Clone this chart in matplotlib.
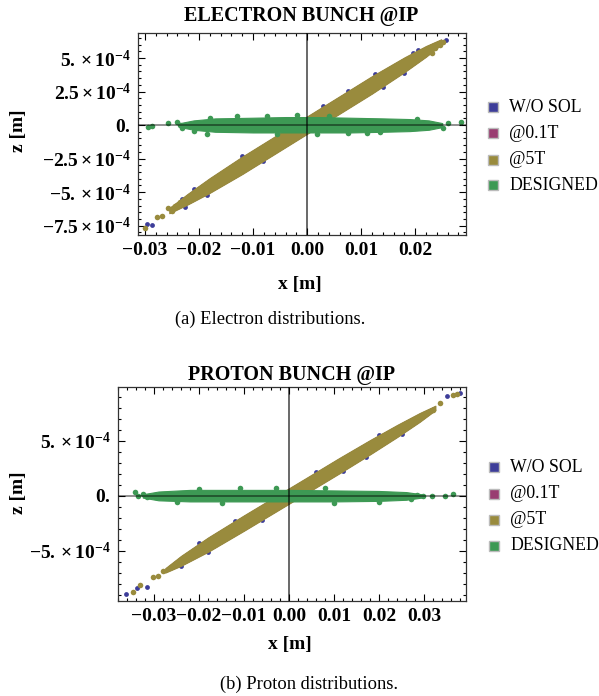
import matplotlib
matplotlib.use("Agg")
import matplotlib.pyplot as plt
from matplotlib.patches import Rectangle
from matplotlib.ticker import MultipleLocator

plt.rcParams["font.family"] = ["Liberation Serif", "DejaVu Serif"]
plt.rcParams["mathtext.fontset"] = "custom"
plt.rcParams["mathtext.rm"] = "Liberation Serif:bold"
plt.rcParams["mathtext.bf"] = "Liberation Serif:bold"
plt.rcParams["mathtext.it"] = "Liberation Serif:bold:italic"

series_names = ["W/O SOL", "@0.1T", "@5T", "DESIGNED"]
series_colors = ["#3d3d99", "#993d71", "#998b3d", "#3d9954"]

# ---- electron bunch (panel a) ----
e_diag_x = [-0.0255, -0.022, -0.018, -0.012, -0.006, 0.000, 0.006, 0.012, 0.018, 0.022, 0.0248]
e_diag_lo = [-6.575e-4, -5.9e-4, -5.05e-4, -3.65e-4, -2.15e-4, -0.65e-4, 0.85e-4, 2.35e-4, 3.95e-4, 5.1e-4, 6.0e-4]
e_diag_hi = [-6.175e-4, -5.1e-4, -3.95e-4, -2.35e-4, -0.85e-4, 0.65e-4, 2.15e-4, 3.65e-4, 5.05e-4, 5.9e-4, 6.4e-4]
e_blue_x = [-0.0296, -0.0287, -0.0231, -0.0226, 0.0257, 0.0205, -0.0185, -0.0081,
            0.0125, 0.018, -0.021, -0.012, 0.0075, 0.014, 0.0195, -0.004, 0.003]
e_blue_z = [-7.39e-4, -7.46e-4, -5.52e-4, -6.12e-4, 6.34e-4, 5.60e-4, -5.20e-4, -2.70e-4,
            3.80e-4, 3.90e-4, -4.75e-4, -2.30e-4, 2.55e-4, 2.85e-4, 5.40e-4, -0.35e-4, 1.40e-4]
e_olive_x = [-0.0300, -0.0278, -0.0269, -0.0257, -0.0250, -0.0244, -0.0235,
             0.0252, 0.0246, 0.0237, 0.0231]
e_olive_z = [-7.69e-4, -6.87e-4, -6.79e-4, -6.19e-4, -6.42e-4, -6.04e-4, -5.75e-4,
             6.19e-4, 5.97e-4, 5.75e-4, 5.37e-4]
e_green_x = [-0.0235, -0.021, -0.017, -0.010, -0.004, 0.002, 0.008, 0.014, 0.019, 0.0225, 0.025]
e_green_lo = [-1.5e-5, -3.5e-5, -5.0e-5, -5.5e-5, -5.5e-5, -5.5e-5, -5.5e-5, -5.0e-5, -4.5e-5, -3.5e-5, -1.5e-5]
e_green_hi = [1.5e-5, 3.5e-5, 5.0e-5, 5.5e-5, 6.0e-5, 6.0e-5, 5.5e-5, 5.0e-5, 4.5e-5, 3.5e-5, 1.5e-5]
e_gpts_x = [-0.0294, -0.0287, -0.0257, -0.0240, -0.0235, -0.0231, -0.0074, -0.0019, -0.018,
            -0.0185, -0.0056, 0.0019, 0.026, 0.0285, 0.0252, 0.0231, 0.0204, 0.0135, 0.0076,
            -0.013, 0.004, 0.011, -0.021]
e_gpts_z = [-1.5e-5, -0.7e-5, 1.5e-5, 2.2e-5, 0.0, -2.2e-5, 7.0e-5, 7.5e-5, 5.5e-5,
            -6.5e-5, -7.0e-5, -7.0e-5, 1.5e-5, 2.2e-5, -2.2e-5, 0.0, 4.5e-5, -5.5e-5, -6.2e-5,
            6.5e-5, 6.8e-5, -6.0e-5, -4.5e-5]

# ---- proton bunch (panel b) ----
p_diag_x = [-0.0275, -0.024, -0.018, -0.010, -0.003, 0.004, 0.011, 0.018, 0.024, 0.029, 0.0325]
p_diag_lo = [-6.97e-4, -6.35e-4, -5.08e-4, -3.16e-4, -1.44e-4, 0.28e-4, 2.01e-4, 3.78e-4, 5.35e-4, 6.73e-4, 7.8e-4]
p_diag_hi = [-6.57e-4, -5.45e-4, -3.78e-4, -1.76e-4, -0.04e-4, 1.68e-4, 3.41e-4, 5.08e-4, 6.45e-4, 7.53e-4, 8.2e-4]
p_blue_x = [-0.0362, -0.0338, -0.0316, 0.0380, 0.0351, 0.0302, -0.024, -0.018, -0.012,
            -0.006, 0.006, 0.012, 0.020, 0.025, -0.020, 0.017]
p_blue_z = [-8.90e-4, -8.36e-4, -8.27e-4, 9.36e-4, 9.10e-4, 7.50e-4, -6.40e-4, -5.10e-4, -2.25e-4,
            -2.20e-4, 2.20e-4, 2.25e-4, 5.55e-4, 5.60e-4, -4.30e-4, 3.50e-4]
p_olive_x = [-0.0347, -0.0331, -0.0302, -0.0280, -0.0292, 0.0364, 0.0336, 0.0320, 0.0372]
p_olive_z = [-8.70e-4, -8.10e-4, -7.36e-4, -6.80e-4, -7.30e-4, 9.20e-4, 8.45e-4, 7.80e-4, 9.30e-4]
p_green_x = [-0.0325, -0.029, -0.022, -0.012, 0.000, 0.010, 0.020, 0.026, 0.0295]
p_green_lo = [-1.5e-5, -4.0e-5, -5.0e-5, -5.0e-5, -5.0e-5, -5.0e-5, -4.5e-5, -3.5e-5, -1.5e-5]
p_green_hi = [1.5e-5, 4.0e-5, 5.5e-5, 5.5e-5, 5.5e-5, 5.0e-5, 4.5e-5, 3.5e-5, 1.5e-5]
p_gpts_x = [-0.0342, -0.0335, -0.0324, -0.0316, 0.0298, 0.0318, 0.0347, 0.0364, 0.0285, 0.027,
            -0.020, -0.011, -0.003, 0.008, -0.025, -0.015, 0.010, 0.020]
p_gpts_z = [3.6e-5, -0.5e-5, 1.8e-5, -1.0e-5, 0.0, 0.0, 0.0, 1.8e-5, 1.0e-5, -3.0e-5,
            6.5e-5, 6.8e-5, 7.2e-5, 7.0e-5, -5.5e-5, -6.2e-5, -6.5e-5, -5.5e-5]

e_xticks = [-0.03, -0.02, -0.01, 0.00, 0.01, 0.02]
e_xlabels = ["\u22120.03", "\u22120.02", "\u22120.01", "0.00", "0.01", "0.02"]
e_yticks = [5e-4, 2.5e-4, 0.0, -2.5e-4, -5e-4, -7.5e-4]
e_ylabels = [r"$5.\times10^{-4}$", r"$2.5\times10^{-4}$", r"$0.$",
             r"$-2.5\times10^{-4}$", r"$-5.\times10^{-4}$", r"$-7.5\times10^{-4}$"]
p_xticks = [-0.03, -0.02, -0.01, 0.00, 0.01, 0.02, 0.03]
p_xlabels = ["\u22120.03", "\u22120.02", "\u22120.01", "0.00", "0.01", "0.02", "0.03"]
p_yticks = [5e-4, 0.0, -5e-4]
p_ylabels = [r"$5.\times10^{-4}$", r"$0.$", r"$-5.\times10^{-4}$"]


def draw_panel(ax, diag, blue_pts, olive_pts, green, green_pts, xlim, ylim):
    dx, dlo, dhi = diag
    blue, mag, olive, green_c = series_colors
    ms = 12
    # W/O SOL
    ax.fill_between(dx, dlo, dhi, color=blue, lw=0, zorder=1)
    ax.scatter(*blue_pts, s=ms, color=blue, lw=0, zorder=1)
    # @0.1T
    ax.fill_between(dx, dlo, dhi, color=mag, lw=0, zorder=2)
    # @5T
    ax.fill_between(dx, dlo, dhi, color=olive, lw=0.8, edgecolor=olive, zorder=3)
    ax.scatter(*olive_pts, s=ms + 4, color=olive, lw=0, zorder=3)
    # DESIGNED
    gx, glo, ghi = green
    ax.fill_between(gx, glo, ghi, color=green_c, lw=0.8, edgecolor=green_c, zorder=4)
    ax.scatter(*green_pts, s=ms + 4, color=green_c, lw=0, zorder=4)

    ax.axhline(0, color="k", lw=1.1, alpha=0.55, zorder=5)
    ax.axvline(0, color="k", lw=1.1, alpha=0.75, zorder=5)
    ax.set_xlim(*xlim)
    ax.set_ylim(*ylim)
    ax.tick_params(which="both", direction="in", top=True, right=True, width=0.8, pad=5)
    ax.tick_params(which="major", length=5, labelsize=14)
    ax.tick_params(which="minor", length=2.5)
    for s in ax.spines.values():
        s.set_linewidth(0.9)
        s.set_color("#333333")


def draw_legend(fig, x0, ys):
    for name, color, y in zip(series_names, series_colors, ys):
        fig.add_artist(Rectangle((x0 / 599, 1 - (y + 5) / 696), 10 / 599, 10 / 696,
                                 transform=fig.transFigure, facecolor=color,
                                 edgecolor="#bbbbbb", lw=1.0))
        fig.text((x0 + 21) / 599, 1 - y / 696, name, fontsize=12.8, va="center", ha="left")


fig = plt.figure(figsize=(5.99, 6.96), dpi=100)

ax1 = fig.add_axes([138 / 599, 1 - 235 / 696, 328 / 599, 202 / 696])
draw_panel(ax1, (e_diag_x, e_diag_lo, e_diag_hi), (e_blue_x, e_blue_z), (e_olive_x, e_olive_z),
           (e_green_x, e_green_lo, e_green_hi), (e_gpts_x, e_gpts_z),
           (-0.0313, 0.0294), (-8.2e-4, 6.87e-4))
ax1.set_xticks(e_xticks)
ax1.set_xticklabels(e_xlabels, fontweight="bold")
ax1.set_yticks(e_yticks)
ax1.set_yticklabels(e_ylabels)
ax1.xaxis.set_minor_locator(MultipleLocator(0.002))
ax1.yaxis.set_minor_locator(MultipleLocator(5e-5))

ax2 = fig.add_axes([118 / 599, 1 - 601 / 696, 348 / 599, 214 / 696])
draw_panel(ax2, (p_diag_x, p_diag_lo, p_diag_hi), (p_blue_x, p_blue_z), (p_olive_x, p_olive_z),
           (p_green_x, p_green_lo, p_green_hi), (p_gpts_x, p_gpts_z),
           (-0.038, 0.0393), (-9.55e-4, 9.9e-4))
ax2.set_xticks(p_xticks)
ax2.set_xticklabels(p_xlabels, fontweight="bold")
ax2.set_yticks(p_yticks)
ax2.set_yticklabels(p_ylabels)
ax2.xaxis.set_minor_locator(MultipleLocator(0.002))
ax2.yaxis.set_minor_locator(MultipleLocator(1e-4))

# titles, axis labels, captions
fig.text(301 / 599, 1 - 16 / 696, "ELECTRON BUNCH @IP", fontsize=14.5, fontweight="bold", ha="center", va="center")
fig.text(300 / 599, 1 - 284 / 696, "x [m]", fontsize=14, fontweight="bold", ha="center", va="center")
fig.text(18 / 599, 1 - 131 / 696, "z [m]", fontsize=14, fontweight="bold", ha="center", va="center", rotation=90)
fig.text(270 / 599, 1 - 319 / 696, "(a) Electron distributions.", fontsize=13.3, ha="center", va="center")

fig.text(292 / 599, 1 - 375 / 696, "PROTON BUNCH @IP", fontsize=14.5, fontweight="bold", ha="center", va="center")
fig.text(290 / 599, 1 - 645 / 696, "x [m]", fontsize=14, fontweight="bold", ha="center", va="center")
fig.text(18 / 599, 1 - 493 / 696, "z [m]", fontsize=14, fontweight="bold", ha="center", va="center", rotation=90)
fig.text(309 / 599, 1 - 684 / 696, "(b) Proton distributions.", fontsize=13.3, ha="center", va="center")

draw_legend(fig, 488, [107, 133, 160, 185])
draw_legend(fig, 489, [467, 494, 520, 546])

fig.savefig("out.png", dpi=100)
